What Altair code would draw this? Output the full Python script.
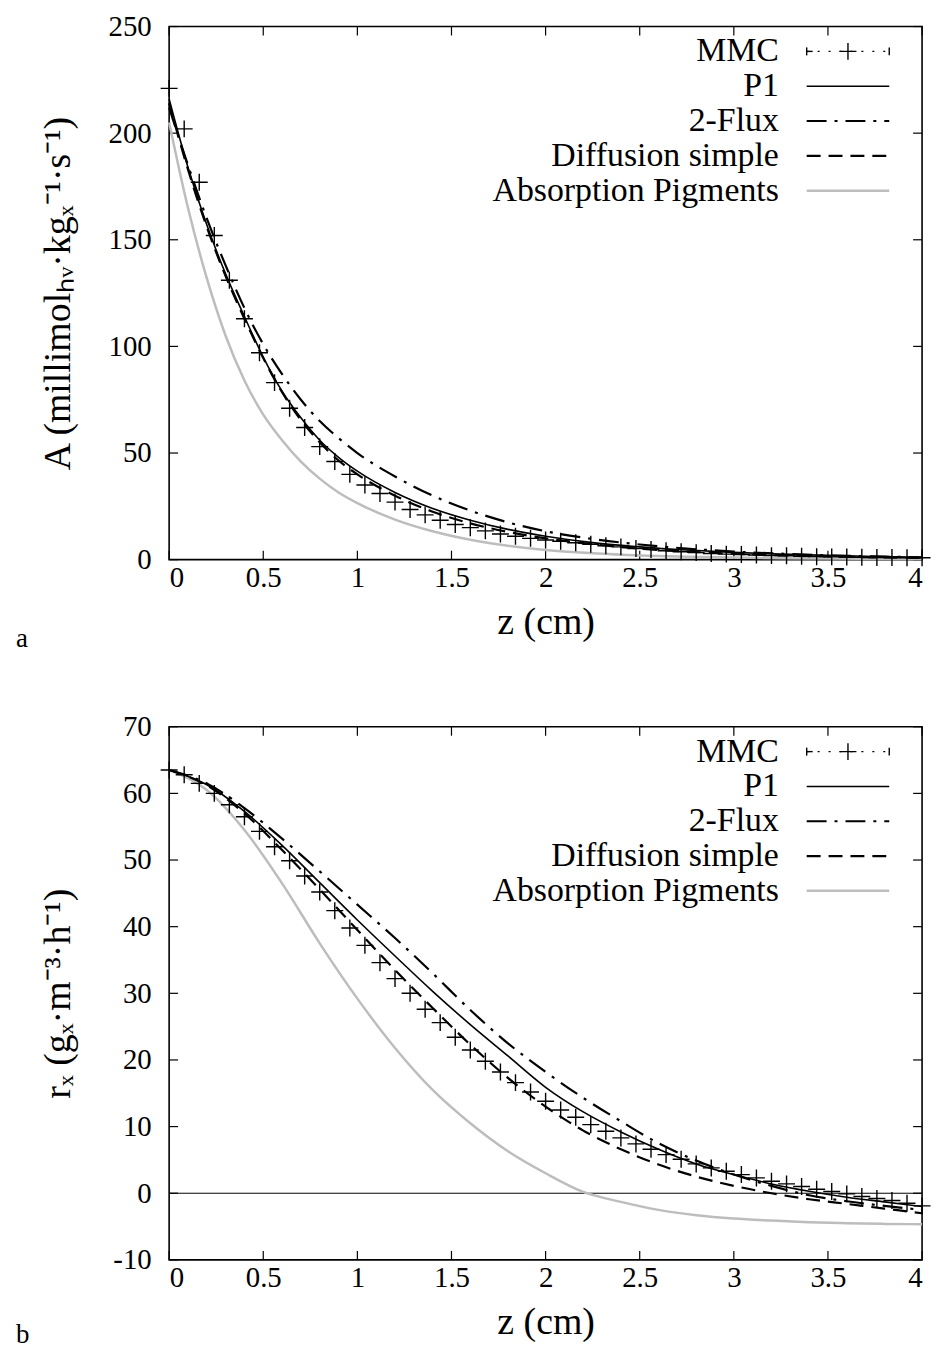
import altair as alt
import pandas as pd

W, H = 757, 536
FONT = "Liberation Serif"

# ---------------- shared x grid of the MMC points ----------------
z_mmc = [0.00, 0.08, 0.16, 0.24, 0.32, 0.40, 0.48, 0.56, 0.64, 0.72, 0.80, 0.88, 0.96,
         1.04, 1.12, 1.20, 1.28, 1.36, 1.44, 1.52, 1.60, 1.68, 1.76, 1.84, 1.92, 2.00,
         2.08, 2.16, 2.24, 2.32, 2.40, 2.48, 2.56, 2.64, 2.72, 2.80, 2.88, 2.96, 3.04,
         3.12, 3.20, 3.28, 3.36, 3.44, 3.52, 3.60, 3.68, 3.76, 3.84, 3.92, 4.00]

# ---------------- panel a : A ----------------
A_mmc = [221, 202, 177, 152, 131, 113, 97, 83, 71, 62, 53, 46, 40, 35, 31, 27, 23.5, 21,
         18.5, 16.5, 15, 13.5, 12, 11, 10, 9.2, 8.6, 7.9, 7.2, 6.5, 6.0, 5.2, 4.8, 4.2, 3.7,
         3.3, 2.9, 2.6, 2.4, 2.2, 1.9, 1.8, 1.6, 1.4, 1.3, 1.2, 1.1, 1.0, 1.0, 0.9, 0.9]

z_a = [0, 0.1, 0.2, 0.3, 0.4, 0.5, 0.6, 0.7, 0.8, 0.9, 1.0, 1.2, 1.4, 1.6, 1.8, 2.0,
       2.25, 2.5, 2.75, 3.0, 3.25, 3.5, 3.75, 4.0]
A_p1 = [216, 184, 157, 134, 114, 95, 79, 66.5, 56, 48, 41.5, 31.5, 24, 18.5, 14.2, 11,
        8, 6, 4.5, 3.4, 2.6, 2.0, 1.5, 1.1]
A_flux = [212, 185, 160, 138, 118, 101, 87, 75, 65, 57, 50, 39, 30, 23, 17.5, 13.3,
          9.7, 7.1, 5.2, 3.8, 2.8, 2.0, 1.5, 1.1]
A_diff = [214, 183, 156, 133, 113, 94.5, 78.5, 65.5, 55, 46.5, 40, 30, 22.5, 17, 13, 10,
          7.2, 5.2, 3.8, 2.8, 2.0, 1.5, 1.1, 0.8]
A_abs = [205, 165, 132, 105, 84, 68, 56, 46, 38, 31.5, 26.5, 18.8, 13.3, 9.3, 6.5, 4.5,
         3.0, 2.0, 1.4, 1.0, 0.7, 0.5, 0.4, 0.3]

# ---------------- panel b : r_x ----------------
R_mmc = [63.5, 62.8, 61.5, 60.0, 58.3, 56.5, 54.3, 52.0, 49.9, 47.6, 45.2, 42.4, 39.8,
         37.2, 34.6, 32.2, 30.0, 27.6, 25.6, 23.4, 21.5, 19.8, 18.2, 16.6, 15.2, 13.8,
         12.5, 11.4, 10.3, 9.3, 8.3, 7.4, 6.6, 5.8, 5.1, 4.4, 3.8, 3.3, 2.8, 2.3, 1.8,
         1.4, 1.0, 0.6, 0.25, -0.1, -0.5, -0.8, -1.1, -1.5, -1.9]

z_b = [0, 0.2, 0.4, 0.6, 0.8, 1.0, 1.2, 1.4, 1.6, 1.8, 2.0, 2.2, 2.4, 2.6, 2.8, 3.0,
       3.2, 3.4, 3.6, 3.8, 4.0]
R_p1 = [63.5, 61.3, 57.3, 52.2, 46.6, 41, 35.6, 30.3, 25.3, 20.6, 15.9, 12.2, 9.2, 6.6,
        4.4, 2.8, 1.4, 0.3, -0.6, -1.3, -2.0]
R_flux = [63.5, 61.5, 57.8, 53.2, 48.3, 43.3, 38.3, 33.0, 27.5, 22.5, 18.2, 14.3, 10.8,
          7.5, 4.9, 2.8, 1.1, -0.3, -1.2, -1.9, -2.5]
R_diff = [63.5, 61.2, 57.0, 51.5, 45.6, 39.5, 33.5, 27.8, 22.3, 17.3, 13.0, 9.4, 6.6,
          4.3, 2.5, 1.1, 0.0, -0.9, -1.6, -2.3, -3.0]
R_abs = [63.5, 60.5, 54.5, 46.5, 37.5, 29.2, 21.8, 15.5, 10.5, 6.3, 3.0, 0.2, -1.3,
         -2.5, -3.3, -3.8, -4.1, -4.35, -4.5, -4.6, -4.65]

x_ticks = [0, 0.5, 1, 1.5, 2, 2.5, 3, 3.5, 4]
ya_ticks = [0, 50, 100, 150, 200, 250]
yb_ticks = [-10, 0, 10, 20, 30, 40, 50, 60, 70]

legend_labels = ["MMC", "P1", "2-Flux", "Diffusion simple", "Absorption Pigments"]

GREY = "#bdbdbd"
PLUS = "M-1,0L1,0M0,-1L0,1"


def panel(mmc, zl, p1, flux, diff, absb, ydom, yticks, ytitle, tag, tag_dy, zero_line):
    xs = alt.Scale(domain=[0, 4], nice=False, zero=False)
    ys = alt.Scale(domain=ydom, nice=False, zero=False)
    xax = alt.Axis(values=x_ticks, labelExpr="'' + datum.value", title="z (cm)",
                   ticks=False, domain=False, grid=False, labelPadding=4,
                   titleX=W / 2, titleY=63, titleBaseline="middle", titleAlign="center")
    yax = alt.Axis(values=yticks, labelExpr="'' + datum.value", title=ytitle,
                   ticks=False, domain=False, grid=False, labelPadding=18,
                   titleX=-111, titleY=H / 2, titleBaseline="middle", titleAlign="center",
                   titleAngle=270)

    def X():
        return alt.X("z:Q", scale=xs, axis=xax)

    def Y():
        return alt.Y("v:Q", scale=ys, axis=yax)

    layers = []
    # inward ticks on all four sides
    xt = pd.DataFrame({"z": x_ticks})
    yt = pd.DataFrame({"v": yticks})
    layers.append(alt.Chart(xt).mark_rule(color="black", strokeWidth=1.2).encode(
        x=X(), y=alt.value(H), y2=alt.value(H - 9)))
    layers.append(alt.Chart(xt).mark_rule(color="black", strokeWidth=1.2).encode(
        x=X(), y=alt.value(0), y2=alt.value(9)))
    layers.append(alt.Chart(yt).mark_rule(color="black", strokeWidth=1.2).encode(
        y=Y(), x=alt.value(0), x2=alt.value(9)))
    layers.append(alt.Chart(yt).mark_rule(color="black", strokeWidth=1.2).encode(
        y=Y(), x=alt.value(W), x2=alt.value(W - 9)))
    if zero_line:
        layers.append(alt.Chart(pd.DataFrame({"v": [0]})).mark_rule(
            color="black", strokeWidth=1).encode(y=Y(), x=alt.value(0), x2=alt.value(W)))

    def line(vals, **style):
        df = pd.DataFrame({"z": zl, "v": vals})
        return alt.Chart(df).mark_line(interpolate="monotone", **style).encode(x=X(), y=Y())

    layers.append(line(absb, color=GREY, strokeWidth=2.5))
    layers.append(line(diff, color="black", strokeWidth=2.2, strokeDash=[14, 8]))
    layers.append(line(flux, color="black", strokeWidth=2.2, strokeDash=[20, 8, 3, 8]))
    layers.append(line(p1, color="black", strokeWidth=1.6))

    dm = pd.DataFrame({"z": z_mmc, "v": mmc})
    layers.append(alt.Chart(dm).mark_point(shape=PLUS, size=290, filled=False,
                                           color="black", strokeWidth=1.4, opacity=1).encode(
        x=X(), y=Y()))

    # legend (gnuplot style: label right-aligned, sample on the right)
    one = pd.DataFrame({"k": [0]})
    rows = [25, 60, 95, 130, 165]
    xl, xa, xb = 613, 641, 724
    for lab, ry in zip(legend_labels, rows):
        layers.append(alt.Chart(one).mark_text(text=lab, font=FONT, fontSize=34,
                                               align="right", baseline="middle",
                                               color="black").encode(
            x=alt.value(xl), y=alt.value(ry)))
    ry = rows[0]
    layers.append(alt.Chart(one).mark_rule(color="black", strokeWidth=1.4,
                                           strokeDash=[2, 9]).encode(
        x=alt.value(xa), x2=alt.value(xb), y=alt.value(ry)))
    for cx in (xa, xb):
        layers.append(alt.Chart(one).mark_rule(color="black", strokeWidth=1.4).encode(
            x=alt.value(cx), y=alt.value(ry - 4), y2=alt.value(ry + 4)))
    layers.append(alt.Chart(one).mark_rule(color="black", strokeWidth=1.4).encode(
        x=alt.value(xa), x2=alt.value(xa + 6), y=alt.value(ry)))
    layers.append(alt.Chart(one).mark_point(shape=PLUS, size=290, filled=False,
                                            color="black", strokeWidth=1.4, opacity=1).encode(
        x=alt.value((xa + xb) / 2), y=alt.value(ry)))
    layers.append(alt.Chart(one).mark_rule(color="black", strokeWidth=1.6).encode(
        x=alt.value(xa), x2=alt.value(xb), y=alt.value(rows[1])))
    layers.append(alt.Chart(one).mark_rule(color="black", strokeWidth=2.2,
                                           strokeDash=[20, 8, 3, 8]).encode(
        x=alt.value(xa), x2=alt.value(xb), y=alt.value(rows[2])))
    layers.append(alt.Chart(one).mark_rule(color="black", strokeWidth=2.2,
                                           strokeDash=[14, 8]).encode(
        x=alt.value(xa), x2=alt.value(xb), y=alt.value(rows[3])))
    layers.append(alt.Chart(one).mark_rule(color=GREY, strokeWidth=2.5).encode(
        x=alt.value(xa), x2=alt.value(xb), y=alt.value(rows[4])))

    # panel tag
    layers.append(alt.Chart(one).mark_text(text=tag, font=FONT, fontSize=27, align="left",
                                           baseline="alphabetic", color="black").encode(
        x=alt.value(-154), y=alt.value(H + tag_dy)))

    return alt.layer(*layers).properties(width=W, height=H)


top = panel(A_mmc, z_a, A_p1, A_flux, A_diff, A_abs, [0, 250], ya_ticks,
            "A (millimolₕᵥ·kgₓ⁻¹·s⁻¹)", "a", 88, False)
bottom = panel(R_mmc, z_b, R_p1, R_flux, R_diff, R_abs, [-10, 70], yb_ticks,
               "rₓ (gₓ·m⁻³·h⁻¹)", "b", 84, True)

chart = alt.vconcat(top, bottom, spacing=168, bounds="flush").properties(
    padding={"left": 7, "top": 0, "right": 0, "bottom": 0}
).configure(background="white").configure_view(
    stroke="black", strokeWidth=1.6
).configure_axis(
    labelFont=FONT, labelFontSize=29, labelColor="black",
    titleFont=FONT, titleFontSize=38, titleFontWeight="normal", titleColor="black"
)

chart.save("out.html", embed_options={"renderer": "svg", "actions": False})
